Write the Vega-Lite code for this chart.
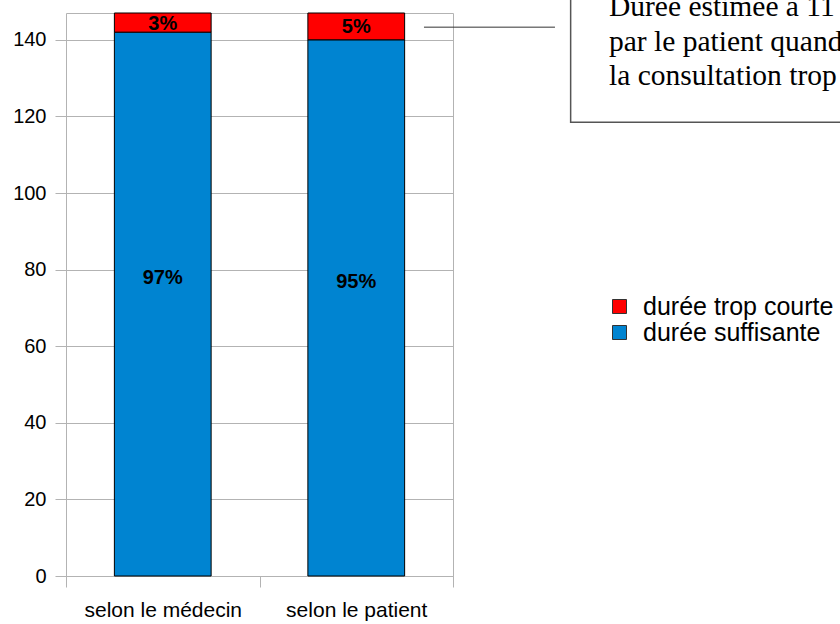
{
  "$schema": "https://vega.github.io/schema/vega-lite/v6.json",
  "width": 387,
  "height": 563,
  "autosize": "none",
  "padding": {"left": 66, "top": 13, "right": 387, "bottom": 48},
  "background": "white",
  "config": {
    "view": {"stroke": "#b3b3b3", "strokeWidth": 1},
    "font": "Liberation Sans"
  },
  "resolve": {"scale": {"x": "independent", "y": "independent"}},
  "layer": [
    {
      "data": {
        "values": [
          {"avis": "selon le médecin", "serie": "durée suffisante", "effectif": 142, "pct": "97%"},
          {"avis": "selon le médecin", "serie": "durée trop courte", "effectif": 5, "pct": "3%"},
          {"avis": "selon le patient", "serie": "durée suffisante", "effectif": 140, "pct": "95%"},
          {"avis": "selon le patient", "serie": "durée trop courte", "effectif": 7, "pct": "5%"}
        ]
      },
      "encoding": {
        "x": {
          "field": "avis", "type": "nominal",
          "scale": {"paddingInner": 0, "paddingOuter": 0},
          "axis": {"title": null, "labelAngle": 0, "labelFontSize": 21, "labelFont": "Liberation Sans", "labelColor": "black",
                   "tickBand": "extent", "tickSize": 11, "tickColor": "#b3b3b3", "domainColor": "#b3b3b3", "labelPadding": 12}
        },
        "y": {
          "field": "effectif", "type": "quantitative", "stack": "zero",
          "scale": {"domain": [0, 147], "nice": false},
          "axis": {"title": null, "values": [0, 20, 40, 60, 80, 100, 120, 140], "tickSize": 11, "tickColor": "#b3b3b3",
                   "grid": true, "gridColor": "#b3b3b3", "domain": false, "labelPadding": 9, "labelFontSize": 20,
                   "labelFont": "Liberation Sans", "labelColor": "black"}
        },
        "order": {"field": "serie", "sort": "ascending"}
      },
      "layer": [
        {
          "mark": {"type": "bar", "width": {"band": 0.5}, "stroke": "black", "strokeWidth": 1},
          "encoding": {
            "color": {
              "field": "serie", "type": "nominal",
              "sort": ["durée trop courte", "durée suffisante"],
              "scale": {"domain": ["durée trop courte", "durée suffisante"], "range": ["#ff0000", "#0084d1"]},
              "legend": {"title": null, "orient": "none", "legendX": 541, "legendY": 281, "symbolType": "square",
                         "symbolSize": 196, "symbolStrokeColor": "#333333", "symbolStrokeWidth": 1, "labelFontSize": 25,
                         "labelFont": "Liberation Sans", "labelColor": "black", "rowPadding": -6, "labelOffset": 11,
                         "labelLimit": 0, "padding": 0}
            }
          }
        },
        {
          "mark": {"type": "text", "fontWeight": "bold", "fontSize": 20, "baseline": "middle", "dy": -26, "color": "black"},
          "encoding": {
            "y": {"field": "effectif", "type": "quantitative", "stack": "zero", "bandPosition": 0.5},
            "text": {"condition": {"test": "datum.serie === 'durée suffisante'", "field": "pct"}, "value": ""}
          }
        },
        {
          "mark": {"type": "text", "fontWeight": "bold", "fontSize": 20, "baseline": "middle", "dy": 1, "color": "black"},
          "encoding": {
            "y": {"field": "effectif", "type": "quantitative", "stack": "zero", "bandPosition": 0.5},
            "text": {"condition": {"test": "datum.serie === 'durée trop courte'", "field": "pct"}, "value": ""}
          }
        }
      ]
    },
    {
      "data": {"values": [{"note": "Durée estimée à 11 min\npar le patient quand il trouve\nla consultation trop courte"}]},
      "layer": [
        {
          "mark": {"type": "rule", "color": "#333333", "strokeWidth": 1},
          "encoding": {
            "x": {"datum": 1.85, "type": "quantitative", "scale": {"domain": [0, 2], "nice": false, "zero": false}, "axis": null},
            "x2": {"datum": 2.527},
            "y": {"datum": 143.3, "type": "quantitative", "scale": {"domain": [0, 147], "nice": false}, "axis": null}
          }
        },
        {
          "mark": {"type": "rect", "fill": "white", "stroke": "#555555", "strokeWidth": 1.5},
          "encoding": {
            "x": {"datum": 2.608, "type": "quantitative"},
            "x2": {"datum": 5},
            "y": {"datum": 118.5, "type": "quantitative"},
            "y2": {"datum": 175}
          }
        },
        {
          "mark": {"type": "text", "font": "Liberation Serif", "fontSize": 29.5, "align": "left", "baseline": "alphabetic",
                   "lineBreak": "\n", "lineHeight": 34.5, "color": "black"},
          "encoding": {
            "x": {"datum": 2.806, "type": "quantitative"},
            "y": {"datum": 146.2, "type": "quantitative"},
            "text": {"field": "note"}
          }
        }
      ]
    }
  ]
}
